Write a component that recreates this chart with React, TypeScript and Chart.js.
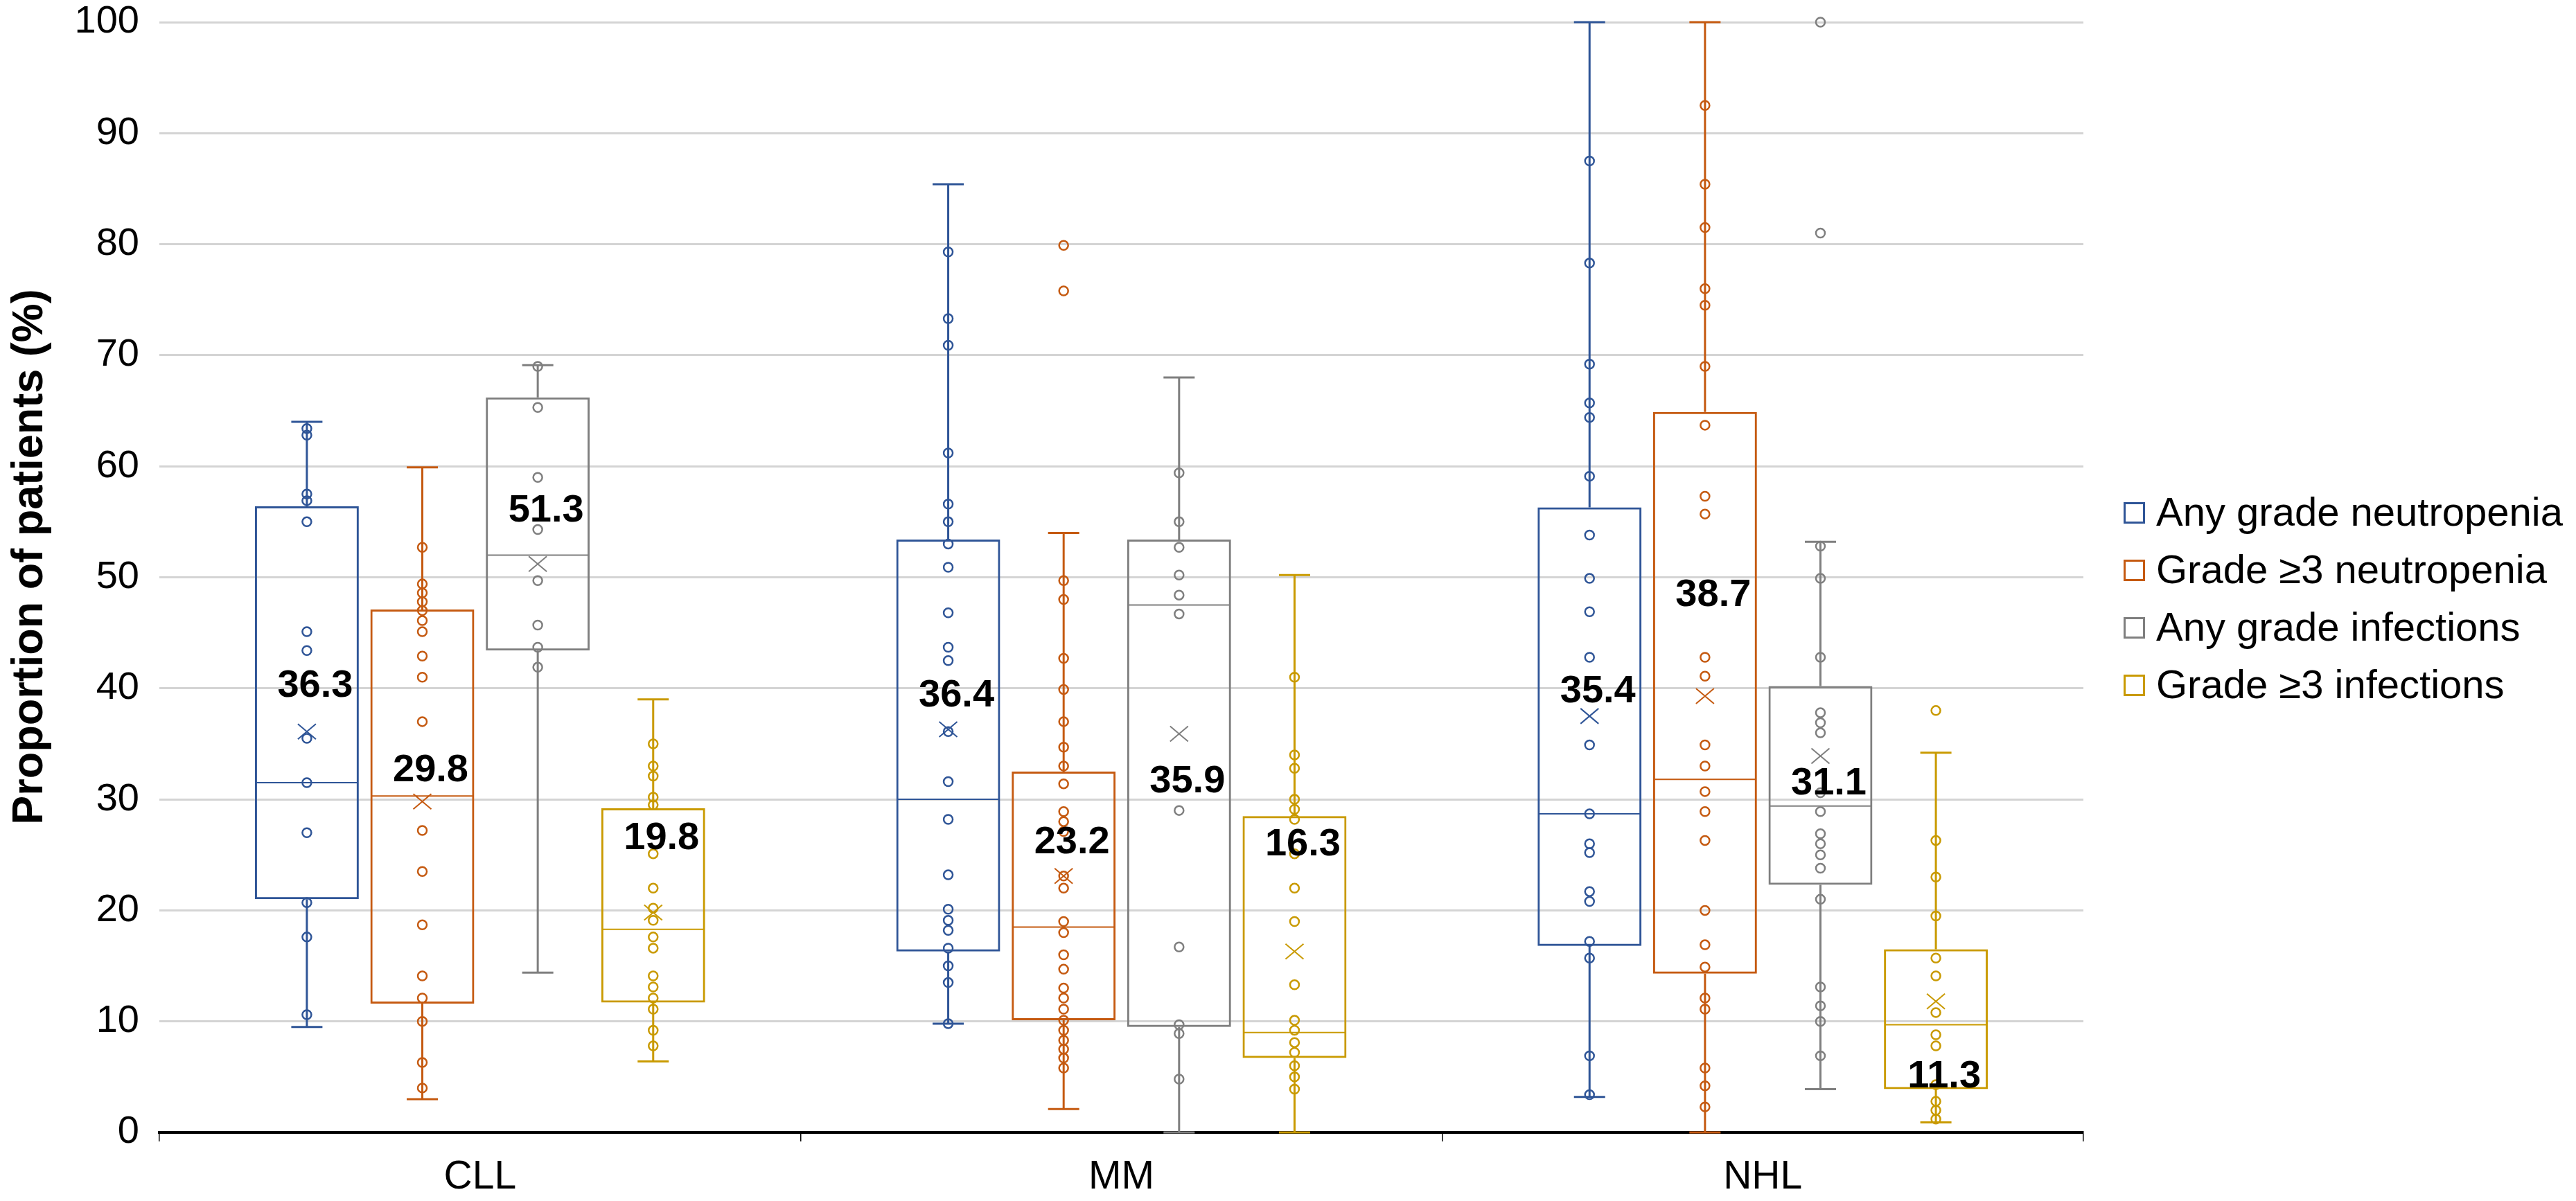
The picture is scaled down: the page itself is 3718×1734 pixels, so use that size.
import React, { useEffect, useRef } from 'react';
import { Chart, registerables } from 'chart.js';

Chart.register(...registerables);

// ---------------- DATA ----------------
const CATEGORIES = ['CLL', 'MM', 'NHL'];
const SERIES_NAMES = [
  'Any grade neutropenia',
  'Grade \u22653 neutropenia',
  'Any grade infections',
  'Grade \u22653 infections',
];
const SERIES_COLORS = ['#2F5597', '#C55A11', '#7F7F7F', '#C99A00'];

// indexed [series][category]
const WHISKER_LOW = [
  [9.5, 9.8, 3.2],
  [3.0, 2.1, 0],
  [14.4, 0, 3.9],
  [6.4, 0, 0.9],
];
const Q1 = [
  [21.0, 16.3, 16.8],
  [11.6, 10.1, 14.3],
  [43.4, 9.5, 22.3],
  [11.7, 6.7, 3.9],
];
const MEDIAN = [
  [31.5, 30.0, 28.7],
  [30.3, 18.5, 31.8],
  [52.0, 47.5, 29.4],
  [18.3, 9.0, 9.7],
];
const Q3 = [
  [56.4, 53.4, 56.3],
  [47.1, 32.5, 64.9],
  [66.2, 53.4, 40.2],
  [29.2, 28.5, 16.5],
];
const WHISKER_HIGH = [
  [64.0, 85.4, 100],
  [59.9, 54.0, 100],
  [69.1, 68.0, 53.2],
  [39.0, 50.2, 34.2],
];
const MEAN = [
  [36.1, 36.3, 37.5],
  [29.8, 23.1, 39.3],
  [51.2, 35.9, 33.9],
  [19.8, 16.3, 11.8],
];
const MEAN_LABEL = [
  [36.3, 36.4, 35.4],
  [29.8, 23.2, 38.7],
  [51.3, 35.9, 31.1],
  [19.8, 16.3, 11.3],
];
// value (y) at which each mean label is anchored
const MEAN_LABEL_AT = [
  [40.2, 39.3, 39.7],
  [32.6, 26.1, 48.4],
  [56.0, 31.6, 31.4],
  [26.5, 25.9, 5.0],
];

// individual points, [category][points]
const POINTS_ANY_NEUTROPENIA = [
  [63.4, 62.8, 57.5, 56.9, 55.0, 45.1, 43.4, 35.5, 31.5, 27.0, 20.7, 17.6, 10.6],
  [79.3, 73.3, 70.9, 61.2, 56.6, 55.0, 53.0, 50.9, 46.8, 43.7, 42.5, 36.1, 31.6, 28.2, 23.2, 20.1, 19.1, 18.2, 16.6, 15.0, 13.5, 9.8],
  [87.5, 78.3, 69.2, 65.7, 64.4, 59.1, 53.8, 49.9, 46.9, 42.8, 34.9, 28.7, 26.0, 25.2, 21.7, 20.8, 17.2, 15.7, 6.9, 3.4],
];
const POINTS_G3_NEUTROPENIA = [
  [52.7, 49.4, 48.6, 47.8, 47.0, 46.1, 45.1, 42.9, 41.0, 37.0, 27.2, 23.5, 18.7, 14.1, 12.1, 10.0, 6.3, 4.0],
  [79.9, 75.8, 49.7, 48.0, 42.7, 39.9, 37.0, 34.7, 33.0, 31.4, 28.9, 28.0, 27.1, 23.1, 22.0, 19.0, 18.0, 16.0, 14.7, 13.0, 12.1, 11.1, 10.1, 9.2, 8.3, 7.5, 6.7, 5.8],
  [92.5, 85.4, 81.5, 76.0, 74.5, 69.0, 63.7, 57.3, 55.7, 42.8, 41.1, 34.9, 33.0, 30.7, 28.9, 26.3, 20.0, 16.9, 14.9, 12.1, 11.1, 5.8, 4.2, 2.3],
];
const POINTS_ANY_INFECTIONS = [
  [69.0, 65.3, 59.0, 54.3, 49.7, 45.7, 43.7, 41.9],
  [59.4, 55.0, 52.7, 50.2, 48.4, 46.7, 29.0, 16.7, 9.7, 8.9, 4.8],
  [100, 81.0, 52.8, 49.9, 42.8, 37.8, 36.9, 36.0, 30.6, 28.9, 26.9, 26.0, 25.0, 23.8, 21.0, 13.1, 11.4, 10.0, 6.9],
];
const POINTS_G3_INFECTIONS = [
  [35.0, 33.0, 32.1, 30.2, 29.5, 25.1, 22.0, 20.2, 19.1, 17.6, 16.6, 14.1, 13.1, 12.1, 11.1, 9.2, 7.8],
  [41.0, 34.0, 32.8, 30.0, 29.1, 28.2, 25.1, 22.0, 19.0, 13.3, 10.1, 9.2, 8.1, 7.2, 6.0, 5.0, 3.9],
  [38.0, 26.3, 23.0, 19.5, 15.7, 14.1, 10.8, 8.8, 7.8, 4.3, 2.8, 2.0, 1.2],
];
const POINTS = [POINTS_ANY_NEUTROPENIA, POINTS_G3_NEUTROPENIA, POINTS_ANY_INFECTIONS, POINTS_G3_INFECTIONS];

const Y_MIN = 0;
const Y_MAX = 100;
const Y_STEP = 10;
const Y_TITLE = 'Proportion of patients (%)';

// ---------------- LAYOUT ----------------
const W = 3702;
const H = 1718;
const FONT = "'Liberation Sans', Arial, Helvetica, sans-serif";

const boxPlugin = {
  id: 'boxExtras',
  afterDatasetsDraw(chart: any) {
    const ctx = chart.ctx;
    const y = chart.scales.y;
    ctx.save();
    chart.data.datasets.forEach((ds: any, s: number) => {
      const meta = chart.getDatasetMeta(s);
      const color = SERIES_COLORS[s];
      meta.data.forEach((bar: any, c: number) => {
        const x = bar.x;
        const half = bar.width / 2;
        ctx.strokeStyle = color;
        ctx.lineCap = 'butt';
        // whiskers
        ctx.lineWidth = 3;
        const yHi = y.getPixelForValue(WHISKER_HIGH[s][c]);
        const yLo = y.getPixelForValue(WHISKER_LOW[s][c]);
        const yQ3 = y.getPixelForValue(Q3[s][c]);
        const yQ1 = y.getPixelForValue(Q1[s][c]);
        ctx.beginPath();
        ctx.moveTo(x, yQ3);
        ctx.lineTo(x, yHi);
        ctx.moveTo(x, yQ1);
        ctx.lineTo(x, yLo);
        ctx.stroke();
        ctx.beginPath();
        ctx.moveTo(x - 22.5, yHi);
        ctx.lineTo(x + 22.5, yHi);
        ctx.moveTo(x - 22.5, yLo);
        ctx.lineTo(x + 22.5, yLo);
        ctx.stroke();
        // median
        ctx.lineWidth = 2;
        const yMed = y.getPixelForValue(MEDIAN[s][c]);
        ctx.beginPath();
        ctx.moveTo(x - half + 2, yMed);
        ctx.lineTo(x + half - 2, yMed);
        ctx.stroke();
        // points
        ctx.lineWidth = 2.5;
        POINTS[s][c].forEach((v: number) => {
          const py = y.getPixelForValue(v);
          ctx.beginPath();
          ctx.arc(x, py, 6.5, 0, Math.PI * 2);
          ctx.stroke();
        });
        // mean marker (x)
        const ym = y.getPixelForValue(MEAN[s][c]);
        ctx.lineWidth = 2;
        ctx.beginPath();
        ctx.moveTo(x - 13, ym - 11);
        ctx.lineTo(x + 13, ym + 11);
        ctx.moveTo(x - 13, ym + 11);
        ctx.lineTo(x + 13, ym - 11);
        ctx.stroke();
      });
    });
    // mean labels
    ctx.fillStyle = '#000';
    ctx.font = `bold 56px ${FONT}`;
    ctx.textAlign = 'center';
    ctx.textBaseline = 'middle';
    chart.data.datasets.forEach((ds: any, s: number) => {
      const meta = chart.getDatasetMeta(s);
      meta.data.forEach((bar: any, c: number) => {
        ctx.fillText(MEAN_LABEL[s][c].toFixed(1), bar.x + 12, y.getPixelForValue(MEAN_LABEL_AT[s][c]));
      });
    });
    ctx.restore();
  },
  afterDraw(chart: any) {
    const ctx = chart.ctx;
    ctx.save();
    // y-axis title
    ctx.translate(36, 796);
    ctx.rotate(-Math.PI / 2);
    ctx.fillStyle = '#000';
    ctx.font = `bold 63px ${FONT}`;
    ctx.textAlign = 'center';
    ctx.textBaseline = 'middle';
    ctx.fillText(Y_TITLE, 0, 0);
    ctx.restore();
    // legend
    ctx.save();
    ctx.font = `58px ${FONT}`;
    ctx.textBaseline = 'middle';
    ctx.textAlign = 'left';
    const rows = [733, 816, 899, 982];
    chart.data.datasets.forEach((ds: any, s: number) => {
      const ry = rows[s];
      ctx.strokeStyle = SERIES_COLORS[s];
      ctx.lineWidth = 3;
      ctx.strokeRect(3058.5, ry - 14.5, 28, 28);
      ctx.fillStyle = '#000';
      ctx.fillText(ds.label, 3104, ry + 2);
    });
    ctx.restore();
  },
};

export default function App() {
  const ref = useRef<HTMLCanvasElement>(null);
  useEffect(() => {
    if (!ref.current) return;
    const chart = new Chart(ref.current, {
      type: 'bar',
      data: {
        labels: CATEGORIES,
        datasets: SERIES_NAMES.map((name, s) => ({
          label: name,
          data: CATEGORIES.map((_, c) => [Q1[s][c], Q3[s][c]]),
          backgroundColor: 'rgba(0,0,0,0)',
          borderColor: SERIES_COLORS[s],
          borderWidth: 3,
          borderSkipped: false,
          categoryPercentage: 0.72,
          barPercentage: 0.9,
        })),
      } as any,
      options: {
        animation: false,
        responsive: false,
        devicePixelRatio: 1,
        layout: { padding: { top: 24, right: 703, left: 0, bottom: 0 } },
        plugins: { legend: { display: false }, tooltip: { enabled: false } },
        scales: {
          x: {
            grid: {
              display: true,
              drawOnChartArea: false,
              drawTicks: true,
              tickLength: 13,
              color: '#000',
              lineWidth: 1.5,
              offset: true,
            },
            border: { display: true, color: '#000', width: 4 },
            ticks: { color: '#000', font: { family: FONT, size: 57 }, padding: 18 },
            afterFit(scale: any) {
              scale.height = 91;
              scale.paddingLeft = 0;
              scale.paddingRight = 0;
            },
          },
          y: {
            min: Y_MIN,
            max: Y_MAX,
            ticks: { stepSize: Y_STEP, color: '#000', font: { family: FONT, size: 56 }, padding: 29 },
            grid: { color: '#D4D4D4', lineWidth: 3, drawTicks: false },
            border: { display: false },
            afterFit(scale: any) {
              scale.width = 222;
              scale.paddingTop = 0;
              scale.paddingBottom = 0;
            },
          },
        },
      } as any,
      plugins: [boxPlugin],
    });
    return () => chart.destroy();
  }, []);
  return (
    <div style={{ width: W, height: H }}>
      <canvas ref={ref} width={W} height={H} style={{ display: 'block', width: W, height: H }} />
    </div>
  );
}
